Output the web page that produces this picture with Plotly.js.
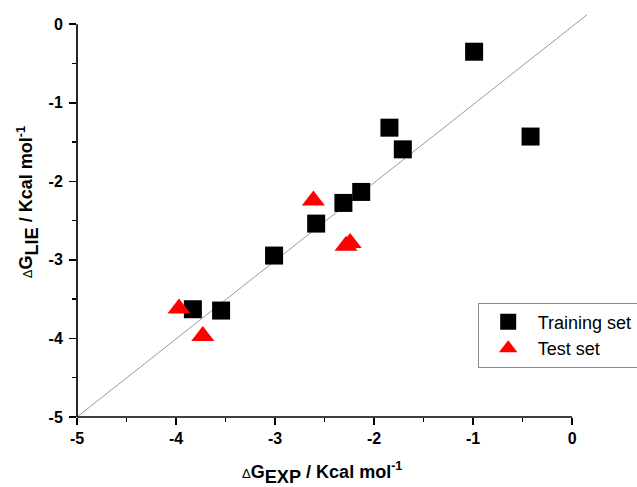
<!DOCTYPE html>
<html>
<head>
<meta charset="utf-8">
<script src="https://cdn.plot.ly/plotly-3.0.1.min.js"></script>
<style>html,body{margin:0;padding:0;background:#fff;}#chart{width:637px;height:487px;}</style>
</head>
<body>
<div id="chart"></div>
<script>
// Training set (squares)
const trainExp = [-0.99, -0.42, -1.845, -1.71, -2.13, -2.31, -2.585, -3.01, -3.83, -3.545];
const trainLie = [-0.35, -1.43, -1.317, -1.593, -2.135, -2.275, -2.538, -2.945, -3.628, -3.645];
// Test set (triangles)
const testExp = [-3.97, -3.73, -2.613, -2.283, -2.242];
const testLie = [-3.62, -3.97, -2.245, -2.82, -2.786];
// y = x reference line
const lineX = [-5, 0.15];
const lineY = [-5, 0.12];
// tick labels
const tickVals = [-5, -4, -3, -2, -1, 0];
const tickText = ['-5', '-4', '-3', '-2', '-1', '0'];

const FONT = 'Liberation Sans, Arial, sans-serif';

const traces = [
  {x: lineX, y: lineY, mode: 'lines', line: {color: '#9a9a9a', width: 1}, showlegend: false, hoverinfo: 'skip'},
  {x: trainExp, y: trainLie, mode: 'markers', name: 'Training set',
   marker: {symbol: 'square', size: 18, color: '#000000', line: {width: 0}}},
  {x: testExp, y: testLie, mode: 'markers', name: 'Test set',
   marker: {symbol: 'triangle-up', size: 20, color: '#ff0000', line: {width: 0}}}
];

function makeAxis(range, extra) {
  return Object.assign({
    range: range,
    showgrid: false, zeroline: false, showline: false,
    ticks: 'outside', ticklen: 7, tickwidth: 1.5, tickcolor: '#000',
    tickmode: 'array', tickvals: tickVals,
    ticktext: tickText,
    tickfont: {family: FONT, size: 16, color: '#000', weight: 'bold'},
    minor: {tickmode: 'linear', tick0: 0, dtick: 0.5, ticks: 'outside', ticklen: 4, tickwidth: 1.5, tickcolor: '#000'}
  }, extra || {});
}

const titleFont = {family: FONT, size: 18, color: '#000'};

const layout = {
  width: 637, height: 487,
  margin: {l: 77, r: 50, t: 14, b: 70, autoexpand: false},
  paper_bgcolor: '#fff', plot_bgcolor: '#fff',
  font: {family: FONT, size: 16, color: '#000'},
  xaxis: makeAxis([-5, 0.15]),
  yaxis: makeAxis([-5, 0.13], {ticklabelstandoff: 3}),
  shapes: [
    {type: 'line', xref: 'x', yref: 'paper', x0: -5, x1: 0, y0: 0, y1: 0, line: {color: '#000', width: 1.7}, layer: 'above'},
    {type: 'line', xref: 'paper', yref: 'y', x0: 0, x1: 0, y0: -5, y1: 0, line: {color: '#000', width: 1.7}, layer: 'above'}
  ],
  annotations: [
    {xref: 'paper', yref: 'paper', x: 0.48, y: -0.139, xanchor: 'center', yanchor: 'middle', showarrow: false,
     text: "<span style='font-size:13px'>Δ</span><b>G</b><span style='font-size:26px'><sub><b>EXP</b></sub></span><b> / Kcal mol</b><sup><b>-1</b></sup>",
     font: titleFont},
    {xref: 'paper', yref: 'paper', x: -0.096, y: 0.533, xanchor: 'center', yanchor: 'middle', showarrow: false, textangle: -90,
     text: "<span style='font-size:13px'>Δ</span><b>G</b><span style='font-size:26px'><sub><b>LIE</b></sub></span><b> / Kcal mol</b><sup><b>-1</b></sup>",
     font: titleFont}
  ],
  legend: {x: 0.7857, y: 0.284, xanchor: 'left', yanchor: 'top', itemwidth: 49,
    bordercolor: '#8a8a8a', borderwidth: 1, bgcolor: '#fff',
    font: {family: FONT, size: 18, color: '#000'}},
  showlegend: true
};

Plotly.newPlot('chart', traces, layout, {displayModeBar: false, staticPlot: true});
</script>
</body>
</html>
